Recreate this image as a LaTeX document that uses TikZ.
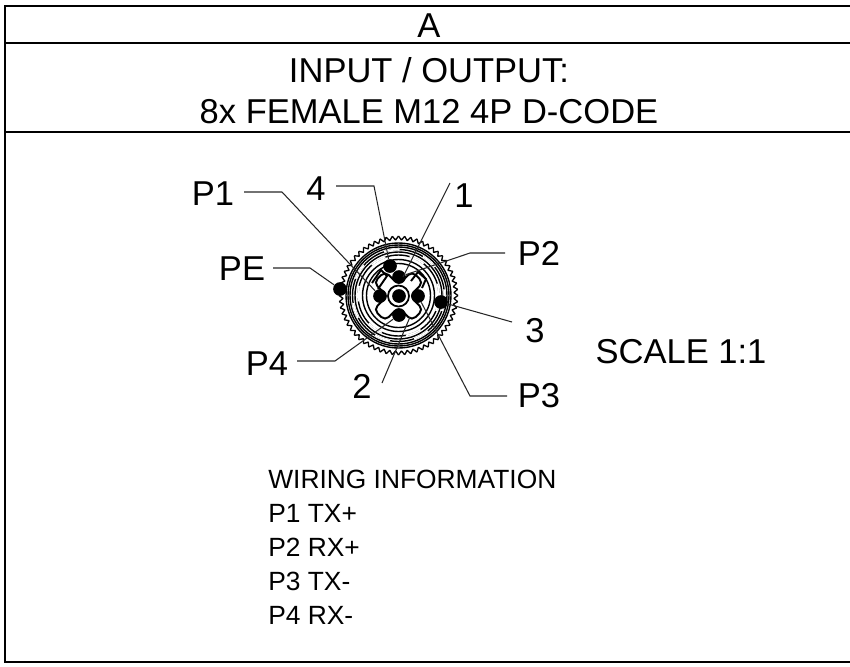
\documentclass[tikz,border=0pt]{standalone}
\usepackage{fontspec}
\setmainfont{Liberation Sans}
\tikzset{
  bigtext/.style={inner sep=0pt,font=\fontsize{19.65}{23}\selectfont},
  smalltext/.style={inner sep=0pt,anchor=west,font=\fontsize{15}{18}\selectfont},
  leader/.style={line width=0.6pt,black!85},
  ring/.style={line width=0.8pt},
  pin/.style={circle,fill=black,minimum size=7.8pt,inner sep=0pt},
}
\begin{document}
\begin{tikzpicture}[x=0.02cm,y=-0.02cm]
            \useasboundingbox (0,0) rectangle (850,667);
            % frame
            \draw[line width=1pt] (850,6) -- (5,6) -- (5,662) -- (850,662);
            \draw[line width=1pt] (5,43) -- (850,43);
            \draw[line width=1pt] (5,132) -- (850,132);
            % headings
            \node[bigtext] (title) at (429,26) {A};
            \node[bigtext] (headone) at (429,70) {INPUT / OUTPUT:};
            \node[bigtext] (headtwo) at (429,112) {8x FEMALE M12 4P D-CODE};
            % connector body
            \begin{scope}[shift={(398.5,295.5)}]
                \foreach \a in {0,6,...,354} {
                    \draw[line width=0.75pt, line join=bevel] (\a:59.5) -- (\a+3:55.5) -- (\a+6:59.5);
                }
                \foreach \r in {52.5,50.5,48.5,46,43.5,40.5,36,32} {
                    \draw[ring] (0,0) circle (\r);
                }
                \foreach \r in {46,40.5} {
                    \draw[white, line width=1pt, dash pattern=on 9pt off 14pt] (0,0) circle (\r);
                }
            \end{scope}
            % insert
            \begin{scope}[shift={(398.5,296)}, rotate=45]
                \draw[line width=1.1pt, fill=white, rounded corners=3pt] (-8,-8) -- (-8,-27) -- (8,-27) -- (8,-8) -- (27,-8) -- (27,8) -- (8,8) -- (8,27) -- (-8,27) -- (-8,8) -- (-27,8) -- (-27,-8) -- cycle;
            \end{scope}
            \draw[line width=1pt] (398.5,296) circle (10.5);
            \draw[line width=1.1pt] (372,283) -- (381,270) -- (387,276) -- (378,289);
            \draw[line width=1.1pt] (411,281) -- (418,272) -- (426,279) -- (422,288);
            % pins
            \node[pin] (pinfour) at (390,266) {};
            \node[pin] (pintwo) at (399,277) {};
            \node[pin] (pinone) at (380,296) {};
            \node[pin] (pinmid) at (399,296) {};
            \node[pin] (pinthree) at (418,296) {};
            \node[pin] (pinlow) at (399,315) {};
            \node[pin] (pinpe) at (340,289) {};
            \node[pin] (pinside) at (441,302) {};
            \coordinate (keytop) at (403,277);
            \coordinate (keylow) at (410,317);
            % labels
            \node[bigtext] (lpone) at (213,194) {P1};
            \node[bigtext] (lfour) at (316,189) {4};
            \node[bigtext] (lone) at (464,196) {1};
            \node[bigtext] (lptwo) at (539,253) {P2};
            \node[bigtext] (lpe) at (242,269) {PE};
            \node[bigtext] (lthree) at (535,331) {3};
            \node[bigtext] (lpfour) at (267,364) {P4};
            \node[bigtext] (ltwo) at (362,386) {2};
            \node[bigtext] (lpthree) at (539,396) {P3};
            \node[bigtext] (scale) at (681,352) {SCALE 1:1};
            % leaders
            \draw[leader] (244,192) -- (282,192) -- (pinone);
            \draw[leader] (336,186) -- (374,186) -- (pinfour);
            \draw[leader] (450,183) -- (keytop);
            \draw[leader] (505,253) -- (470,253) -- (pintwo);
            \draw[leader] (273,268) -- (310,268) -- (pinpe);
            \draw[leader] (512,322) -- (pinside);
            \draw[leader] (297,361) -- (335,361) -- (pinlow);
            \draw[leader] (382,383) -- (keylow);
            \draw[leader] (507,396) -- (470,396) -- (pinthree);
            % wiring list
            \node[smalltext] (wirehead) at (268,479.5) {WIRING INFORMATION};
            \node[smalltext] (wireone) at (268,513) {P1 TX+};
            \node[smalltext] (wiretwo) at (268,547) {P2 RX+};
            \node[smalltext] (wirethree) at (268,581) {P3 TX-};
            \node[smalltext] (wirefour) at (268,615) {P4 RX-};
        \end{tikzpicture}
\end{document}
